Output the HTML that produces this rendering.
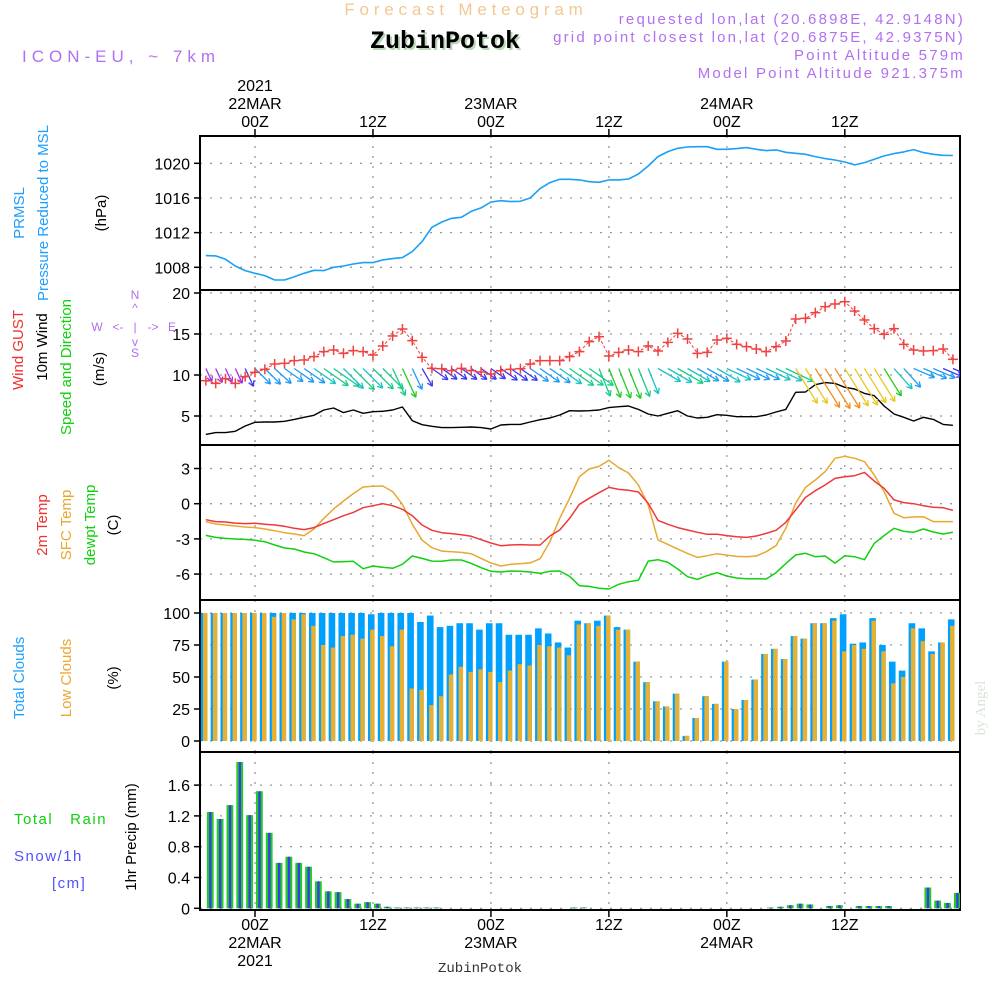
<!DOCTYPE html>
<html><head><meta charset="utf-8"><style>
html,body{margin:0;padding:0;background:#fff;}
svg{display:block;font-family:"Liberation Sans",sans-serif;}
</style></head><body>
<svg id="chart" width="1000" height="1000" viewBox="0 0 1000 1000" xmlns="http://www.w3.org/2000/svg">
<g>
<text x="466" y="15" text-anchor="middle" font-size="17" fill="#f2c890" letter-spacing="4.8">Forecast Meteogram</text>
<text x="447" y="50" text-anchor="middle" font-size="25" font-weight="bold" font-family="Liberation Mono, monospace" fill="#b8d8b8">ZubinPotok</text>
<text x="445" y="48" text-anchor="middle" font-size="25" font-weight="bold" font-family="Liberation Mono, monospace" fill="#000">ZubinPotok</text>
<text x="22" y="62" font-size="17" fill="#b070f0" letter-spacing="5">ICON-EU, ~ 7km</text>
<g font-size="15" fill="#b070f0" text-anchor="end" letter-spacing="2.2">
<text x="965" y="24">requested lon,lat (20.6898E, 42.9148N)</text>
<text x="965" y="42">grid point closest lon,lat (20.6875E, 42.9375N)</text>
<text x="965" y="60">Point Altitude 579m</text>
<text x="965" y="78">Model Point Altitude 921.375m</text>
</g>
</g>
<g id="axes"></g>
<g id="marks"></g>
<g font-size="15">
<text transform="translate(24,213) rotate(-90)" text-anchor="middle" fill="#1e9fff">PRMSL</text>
<text transform="translate(48,213) rotate(-90)" text-anchor="middle" fill="#1e9fff">Pressure Reduced to MSL</text>
<text transform="translate(106,213) rotate(-90)" text-anchor="middle" fill="#000">(hPa)</text>
<text transform="translate(23,350) rotate(-90)" text-anchor="middle" fill="#f03030">Wind GUST</text>
<text transform="translate(47,347) rotate(-90)" text-anchor="middle" fill="#000">10m Wind</text>
<text transform="translate(71,367) rotate(-90)" text-anchor="middle" fill="#10d010">Speed and Direction</text>
<text transform="translate(104,369) rotate(-90)" text-anchor="middle" fill="#000">(m/s)</text>
<g fill="#b070f0" font-size="12" text-anchor="middle">
<text x="135" y="299">N</text><text x="135" y="312">^</text><text x="135" y="331">|</text>
<text x="97" y="331">W</text><text x="118" y="331">&lt;-</text><text x="153" y="331">-&gt;</text><text x="172" y="331">E</text>
<text x="135" y="346">v</text><text x="135" y="357">S</text>
</g>
<text transform="translate(47,525) rotate(-90)" text-anchor="middle" fill="#f03030">2m Temp</text>
<text transform="translate(71,525) rotate(-90)" text-anchor="middle" fill="#e8a830">SFC Temp</text>
<text transform="translate(95,525) rotate(-90)" text-anchor="middle" fill="#10d010">dewpt Temp</text>
<text transform="translate(118,525) rotate(-90)" text-anchor="middle" fill="#000">(C)</text>
<text transform="translate(24,678) rotate(-90)" text-anchor="middle" fill="#1e9fff">Total Clouds</text>
<text transform="translate(71,678) rotate(-90)" text-anchor="middle" fill="#e8a830">Low Clouds</text>
<text transform="translate(118,678) rotate(-90)" text-anchor="middle" fill="#000">(%)</text>
<text x="14" y="824" fill="#10d010" letter-spacing="1.5" xml:space="preserve">Total   Rain</text>
<text x="14" y="861" fill="#5050ff" letter-spacing="1.5">Snow/1h</text>
<text x="52" y="888" fill="#5050ff" letter-spacing="1.5">[cm]</text>
<text transform="translate(136,837) rotate(-90)" text-anchor="middle" fill="#000">1hr Precip (mm)</text>
<text transform="translate(985,708) rotate(-90)" text-anchor="middle" fill="#d8e4d8" font-family="Liberation Serif, serif" font-size="15">by Angel</text>
<text x="480" y="972" text-anchor="middle" font-family="Liberation Mono, monospace" font-size="14" fill="#333">ZubinPotok</text>
</g>
</svg>
<script>
// ---- data (hourly, hours relative to 22MAR 00Z) ----
const hours = [];
for (let h = -5; h <= 71; h++) hours.push(h);
const pressure = [1009.35,1009.31,1008.92,1008.15,1007.62,1007.31,1007.04,1006.54,1006.54,1006.92,1007.31,1007.65,1007.62,1008.0,1008.15,1008.38,1008.54,1008.54,1008.85,1009.0,1009.12,1009.81,1010.96,1012.62,1013.23,1013.65,1013.77,1014.46,1014.85,1015.54,1015.69,1015.58,1015.62,1016.0,1017.08,1017.77,1018.15,1018.15,1018.08,1017.88,
1017.81,1018.08,1018.08,1018.19,1018.77,1019.69,1020.77,1021.35,1021.73,1021.88,1021.92,1021.92,1021.62,1021.62,1021.69,1021.81,1021.62,1021.46,1021.54,1021.27,1021.15,1021.04,1020.77,1020.54,1020.38,1020.15,1019.81,1020.08,1020.46,1020.85,1021.12,1021.31,1021.58,1021.23,1021.04,1020.92,1020.9];
const gust = [9.31,8.98,9.55,8.98,9.80,10.33,10.69,11.34,11.42,11.75,11.83,12.24,12.85,13.05,12.64,12.97,12.85,12.44,13.54,14.76,15.61,14.19,12.15,10.81,10.77,10.53,10.81,10.53,10.37,10.12,10.53,10.69,10.77,11.34,11.75,11.75,11.75,12.24,12.85,14.07,
14.67,12.32,12.76,13.05,12.85,13.54,12.93,13.98,15.08,14.39,12.64,12.76,14.27,14.47,13.74,13.46,13.17,12.85,13.46,14.15,16.83,16.91,17.60,18.33,18.66,18.94,17.80,16.71,15.65,14.96,15.65,13.74,13.05,12.93,12.97,13.17,11.91];
const windSpeed = [2.76,2.97,2.97,3.13,3.78,4.23,4.27,4.27,4.35,4.59,4.84,5.08,5.73,5.98,5.41,5.73,5.33,5.53,5.57,5.73,6.10,4.43,3.94,3.74,3.58,3.58,3.62,3.66,3.58,3.41,3.90,3.98,3.98,4.27,4.55,4.76,5.12,5.65,5.61,5.65,
5.73,6.02,6.14,6.22,5.81,5.24,5.0,5.33,5.65,5.0,4.76,4.84,5.16,5.08,4.92,4.92,4.92,5.12,5.49,5.81,7.89,7.93,8.82,9.07,8.98,8.50,8.29,7.76,7.48,6.22,5.24,4.84,4.39,4.84,4.59,3.98,3.86];
const windDir = [335,335,335,335,335,315,315,312,305,305,305,305,305,305,315,315,315,315,315,335,335,335,330,
305,305,305,305,305,305,305,305,305,305,305,305,305,305,305,305,305,
338,338,338,338,338,338,300,300,300,300,300,300,300,295,295,295,295,295,295,295,
328,328,328,328,328,328,328,328,328,328,318,318,293,293,293,293,293];
const temp2m = [-1.36,-1.53,-1.56,-1.65,-1.70,-1.67,-1.76,-1.82,-1.93,-2.10,-2.21,-2.04,-1.70,-1.36,-1.02,-0.74,-0.34,-0.17,0.0,-0.17,-0.48,-1.02,-1.82,-2.27,-2.47,-2.55,-2.64,-2.78,-3.07,-3.35,-3.58,-3.52,-3.49,-3.52,-3.52,-2.75,-2.24,-1.25,-0.05,
0.46,0.94,1.39,1.22,1.14,1.0,0.03,-1.42,-1.76,-2.04,-2.24,-2.44,-2.61,-2.61,-2.72,-2.81,-2.87,-2.75,-2.53,-2.27,-1.59,-0.54,0.54,1.11,1.59,2.16,2.30,2.39,2.67,1.93,1.31,0.32,0.09,0.0,-0.17,-0.31,-0.34,-0.57];
const tempSfc = [-1.53,-1.73,-1.82,-1.90,-1.99,-2.04,-2.16,-2.30,-2.47,-2.58,-2.72,-2.16,-1.25,-0.45,0.23,0.86,1.42,1.48,1.51,1.03,-0.05,-1.76,-3.10,-3.75,-4.04,-4.09,-4.15,-4.26,-4.66,-5.05,-5.31,-5.17,-5.11,-5.05,-4.69,-3.24,-1.25,0.46,2.30,
2.96,3.18,3.70,3.07,2.62,1.59,-0.11,-3.09,-3.47,-3.87,-4.24,-4.58,-4.43,-4.26,-4.38,-4.49,-4.52,-4.46,-4.09,-3.58,-2.10,0.03,1.39,2.02,2.73,3.87,4.04,3.87,3.58,2.45,1.03,-0.82,-1.19,-1.13,-1.11,-1.53,-1.53,-1.53];
const dewpt = [-2.70,-2.87,-2.96,-3.01,-3.04,-3.12,-3.24,-3.52,-3.78,-3.86,-4.12,-4.26,-4.60,-4.97,-4.94,-4.91,-5.54,-5.31,-5.42,-5.51,-5.17,-4.46,-4.66,-4.89,-4.91,-4.80,-4.80,-5.09,-5.46,-5.76,-5.82,-5.74,-5.76,-5.82,-5.94,-5.76,-5.74,-6.19,-6.99,
-7.05,-7.21,-7.27,-6.87,-6.65,-6.53,-4.89,-4.77,-5.0,-5.57,-6.22,-6.45,-6.13,-5.88,-6.16,-6.33,-6.39,-6.39,-6.42,-5.88,-5.11,-4.37,-4.23,-4.52,-4.46,-5.06,-4.43,-4.52,-4.77,-3.38,-2.72,-2.10,-2.36,-2.44,-2.16,-2.41,-2.58,-2.44];
const totalClouds = [100,100,100,100,100,100,100,100,100,100,100,100,100,100,100,100,100,99,100,100,100,100,93,98,89,90,92,92,87,92,92,83,83,83,88,84,77,73,94,92,
94,98,89,87,62,46,31,27,37,4,18,35,29,62,25,32,48,68,72,64,82,80,92,92,96,99,76,77,96,75,62,55,92,88,70,77,95];
const lowClouds = [100,100,100,100,100,100,100,97,100,95,99,90,75,73,82,83,80,87,82,74,87,41,40,28,35,52,58,54,56,54,46,55,60,59,75,74,73,67,91,92,
90,98,87,87,62,46,31,27,37,4,18,35,29,62,25,32,48,68,72,64,82,80,92,92,94,70,75,72,94,70,45,50,88,78,68,77,90];
const rain = [1.25,1.16,1.34,1.90,1.21,1.52,0.98,0.59,0.67,0.59,0.54,0.35,0.22,0.21,0.12,0.06,0.08,0.06,0.02,0.01,0.01,0.01,0.01,0.01,0.0,0.0,0.0,0.0,0.0,0.0,0.0,0.0,0.0,0.0,0.0,0.0,0.0,0.01,0.01,0.0,
0.0,0.0,0.0,0.0,0.0,0.0,0.0,0.0,0.0,0.0,0.0,0.0,0.0,0.0,0.0,0.0,0.0,0.01,0.02,0.04,0.06,0.05,0.0,0.03,0.04,0.0,0.03,0.03,0.03,0.03,0.0,0.0,0.0,0.27,0.10,0.07,0.20];
const snow = rain.slice();
const pTicks = [1008,1012,1016,1020];
const wTicks = [5,10,15,20];
const tTicks = [-6,-3,0,3];
const cTicks = [0,25,50,75,100];
const rTicks = [0,0.4,0.8,1.2,1.6];
const rTickLabels = ["0","0.4","0.8","1.2","1.6"];
const timeTicks = [0,12,24,36,48,60];
const timeLabels = ["00Z","12Z","00Z","12Z","00Z","12Z"];
const dayLabels = ["22MAR","","23MAR","","24MAR",""];

// ---- scales ----
const L = 200, R = 960;
const x = h => 255 + 9.83 * h;
const yP = v => 267.3 - (v - 1008) * 8.667;
const yW = v => 375 - (v - 10) * 8.2;
const yT = v => 503.7 - v * 11.73;
const yC = v => 741 - v * 1.28;
const yR = v => 908.3 - v * 77;
const panels = [[136,290,yP,pTicks,pTicks.map(String),'pressure-panel'],[290,445,yW,wTicks,wTicks.map(String),'wind-panel'],[445,600,yT,tTicks,tTicks.map(String),'temperature-panel'],[600,752,yC,cTicks,cTicks.map(String),'cloud-panel'],[752,910,yR,rTicks,rTickLabels,'precip-panel']];

const NS = 'http://www.w3.org/2000/svg';
function mk(tag, parent, attrs) {
  const e = document.createElementNS(NS, tag);
  for (const k in attrs) e.setAttribute(k, attrs[k]);
  parent.appendChild(e);
  return e;
}
const axes = document.getElementById('axes');
const marks = document.getElementById('marks');

const defs = mk('defs', marks, {});
const cp = mk('clipPath', defs, {id:'plotclip'});
mk('rect', cp, {x:L, y:136, width:R-L, height:774});

panels.forEach(([top, bot, sc, ticks, labs, name]) => {
  const g = mk('g', axes, {});
  
  
  ticks.forEach((t, i) => {
    const y = sc(t);
    const gl = mk('line', g, {x1:L, x2:R, y1:y, y2:y, stroke:'#999', 'stroke-width':1.3, 'stroke-dasharray':'2 8'});
    
    
    mk('line', g, {x1:L-6, x2:L, y1:y, y2:y, stroke:'#000', 'stroke-width':1.5});
    const tx = mk('text', g, {x:L-10, y:y+6, 'text-anchor':'end', 'font-size':16, fill:'#000'});
    tx.textContent = labs[i];
    
    
  });
  timeTicks.forEach(h => {
    const vl = mk('line', g, {x1:x(h), x2:x(h), y1:top, y2:bot, stroke:'#999', 'stroke-width':1.3, 'stroke-dasharray':'2 8'});
    
    
  });
  const fr = mk('rect', g, {x:L, y:top, width:R-L, height:bot-top, fill:'none', stroke:'#000', 'stroke-width':2});
  
  
});

const ta = mk('g', axes, {'font-size':16, 'text-anchor':'middle', fill:'#000'});


timeTicks.forEach((h, i) => {
  mk('line', ta, {x1:x(h), x2:x(h), y1:129, y2:136, stroke:'#000', 'stroke-width':1.5});
  mk('line', ta, {x1:x(h), x2:x(h), y1:910, y2:917, stroke:'#000', 'stroke-width':1.5});
  const t1 = mk('text', ta, {x:x(h), y:127});
  t1.textContent = timeLabels[i];
  
  
  const t2 = mk('text', ta, {x:x(h), y:930});
  t2.textContent = timeLabels[i];
  
  
  if (dayLabels[i]) {
    const d1 = mk('text', ta, {x:x(h), y:109});
    d1.textContent = dayLabels[i];
    
    
    const d2 = mk('text', ta, {x:x(h), y:948});
    d2.textContent = dayLabels[i];
    
    
  }
});
const y1 = mk('text', ta, {x:x(0), y:91}); y1.textContent = '2021';


const y2 = mk('text', ta, {x:x(0), y:966}); y2.textContent = '2021';



const mg = mk('g', marks, {'clip-path':'url(#plotclip)'});
function line(vals, sc, color, name, w) {
  const pts = vals.map((v, i) => x(hours[i]).toFixed(1) + ',' + sc(v).toFixed(1)).join(' ');
  const p = mk('polyline', mg, {points:pts, fill:'none', stroke:color, 'stroke-width':w || 1.5, 'stroke-linejoin':'round'});
  
  
  return p;
}

line(pressure, yP, '#1aa0f5', 'pressure-line', 1.6);
line(windSpeed, yW, '#000', 'wind-speed-line', 1.4);

function windColor(s) {
  if (s < 3.4) return '#9b30f0';
  if (s < 4.0) return '#3a3af0';
  if (s < 5.0) return '#1e9cf5';
  if (s < 5.5) return '#19c3c3';
  if (s < 6.0) return '#18cc88';
  if (s < 7.0) return '#22cc22';
  if (s < 8.6) return '#e8c820';
  return '#f09020';
}
windSpeed.forEach((s, i) => {
  const x0 = x(hours[i]), y0 = 368.5;
  const th = windDir[i] * Math.PI / 180;
  const len = s * 5.2;
  const dx = -Math.sin(th), dy = Math.cos(th);
  const x1 = x0 + dx * len, y1v = y0 + dy * len;
  const c = windColor(s);
  const g = mk('g', mg, {stroke:c, 'stroke-width':1.3, fill:'none'});
  
  
  mk('line', g, {x1:x0, y1:y0, x2:x1, y2:y1v});
  const a = Math.atan2(dy, dx), hl = 6;
  [a + Math.PI - 0.5, a + Math.PI + 0.5].forEach(b => {
    mk('line', g, {x1:x1, y1:y1v, x2:x1 + hl * Math.cos(b), y2:y1v + hl * Math.sin(b)});
  });
});

const gp = line(gust, yW, '#f04040', 'gust-line', 1);
gp.setAttribute('stroke-dasharray', '3 2');
gust.forEach((v, i) => {
  const cx = x(hours[i]), cy = yW(v);
  const g = mk('g', mg, {stroke:'#f04040', 'stroke-width':1.5});
  
  
  mk('line', g, {x1:cx - 5, x2:cx + 5, y1:cy, y2:cy});
  mk('line', g, {x1:cx, x2:cx, y1:cy - 5, y2:cy + 5});
});

line(tempSfc, yT, '#e8a830', 'sfc-temp-line', 1.5);
line(temp2m, yT, '#f03838', '2m-temp-line', 1.5);
line(dewpt, yT, '#10d010', 'dewpt-line', 1.5);

totalClouds.forEach((v, i) => {
  const bx = x(hours[i]) - 5;
  const b = mk('rect', mg, {x:bx, y:yC(v), width:6.6, height:yC(0) - yC(v), fill:'#00a0ff'});
  
  
  const o = mk('rect', mg, {x:bx + 2.2, y:yC(lowClouds[i]), width:4.4, height:yC(0) - yC(lowClouds[i]), fill:'#e8b030'});
  
  
});

rain.forEach((v, i) => {
  if (v <= 0) return;
  const bx = x(hours[i]) + 1;
  const b = mk('rect', mg, {x:bx, y:yR(v), width:6.8, height:yR(0) - yR(v), fill:'#22cc22'});
  
  
  const s = mk('rect', mg, {x:bx + 2.3, y:yR(snow[i]), width:2.4, height:yR(0) - yR(snow[i]), fill:'#3a3af0'});
  
  
});
</script>
</body></html>
